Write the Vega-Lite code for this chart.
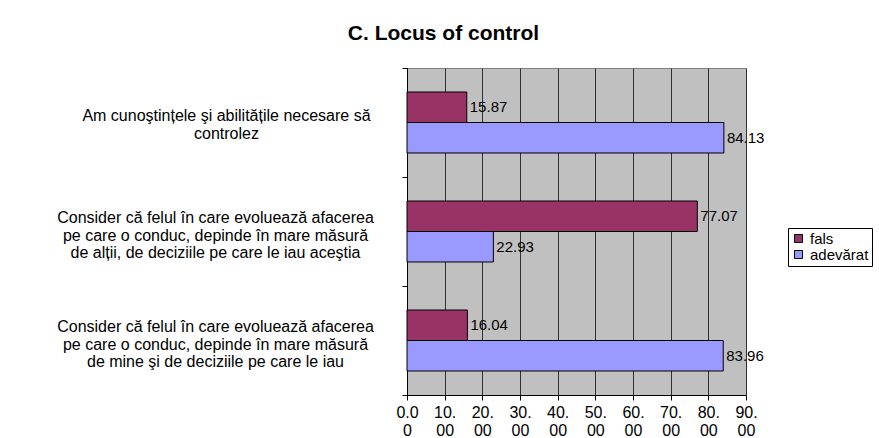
{
  "$schema": "https://vega.github.io/schema/vega-lite/v6.json",
  "autosize": "none",
  "width": 339,
  "height": 327,
  "padding": {"left": 407, "top": 68, "right": 133, "bottom": 43},
  "background": "white",
  "title": {
    "text": "C. Locus of control",
    "font": "Liberation Sans",
    "fontSize": 21,
    "fontWeight": "bold",
    "color": "black",
    "anchor": "middle",
    "dx": -133,
    "offset": 16
  },
  "data": {
    "values": [
      {"item": "Am cunoştințele şi abilitățile necesare să|controlez", "raspuns": "fals", "procent": 15.87},
      {"item": "Am cunoştințele şi abilitățile necesare să|controlez", "raspuns": "adevărat", "procent": 84.13},
      {"item": "Consider că felul în care evoluează afacerea|pe care o conduc, depinde în mare măsură|de alții, de deciziile pe care le iau aceştia", "raspuns": "fals", "procent": 77.07},
      {"item": "Consider că felul în care evoluează afacerea|pe care o conduc, depinde în mare măsură|de alții, de deciziile pe care le iau aceştia", "raspuns": "adevărat", "procent": 22.93},
      {"item": "Consider că felul în care evoluează afacerea|pe care o conduc, depinde în mare măsură|de mine şi de deciziile pe care le iau", "raspuns": "fals", "procent": 16.04},
      {"item": "Consider că felul în care evoluează afacerea|pe care o conduc, depinde în mare măsură|de mine şi de deciziile pe care le iau", "raspuns": "adevărat", "procent": 83.96}
    ]
  },
  "encoding": {
    "y": {
      "field": "item",
      "type": "nominal",
      "sort": null,
      "title": null,
      "scale": {"paddingInner": 0, "paddingOuter": 0},
      "axis": {
        "domainColor": "black",
        "tickColor": "black",
        "tickSize": 5,
        "tickBand": "extent",
        "labelExpr": "isString(datum.value) ? split(datum.value, '|') : ''",
        "labelAlign": "center",
        "labelBaseline": "middle",
        "labelPadding": {"condition": {"test": "isString(datum.value) && indexof(datum.value, 'Am') === 0", "value": 176}, "value": 187},
        "labelOffset": {"condition": {"test": "isString(datum.value) && indexof(datum.value, 'Am') === 0", "value": -7}, "value": -14},
        "labelLimit": 0,
        "labelFont": "Liberation Sans",
        "labelFontSize": 16,
        "labelLineHeight": 17.5,
        "labelColor": "black"
      }
    },
    "yOffset": {
      "field": "raspuns",
      "type": "nominal",
      "sort": ["fals", "adevărat"],
      "scale": {"paddingInner": 0, "paddingOuter": 0.787}
    },
    "x": {
      "field": "procent",
      "type": "quantitative",
      "title": null,
      "scale": {"domain": [0, 90], "nice": false},
      "axis": {
        "values": [0, 10, 20, 30, 40, 50, 60, 70, 80, 90],
        "labelExpr": "[slice(format(datum.value, '.2f'), 0, 3), slice(format(datum.value, '.2f'), 3)]",
        "grid": true,
        "gridColor": "#303030",
        "gridWidth": 1,
        "gridOpacity": 1,
        "domainColor": "black",
        "tickColor": "black",
        "tickSize": 5,
        "labelFont": "Liberation Sans",
        "labelFontSize": 16,
        "labelLineHeight": 18,
        "labelColor": "black",
        "labelPadding": 4,
        "labelFlush": false,
        "labelOverlap": false
      }
    }
  },
  "layer": [
    {
      "mark": {"type": "bar", "stroke": "black", "strokeWidth": 1},
      "encoding": {
        "color": {
          "field": "raspuns",
          "type": "nominal",
          "sort": ["fals", "adevărat"],
          "scale": {"domain": ["fals", "adevărat"], "range": ["#993366", "#9999FF"]},
          "legend": {
            "title": null,
            "orient": "none",
            "legendX": 381,
            "legendY": 160,
            "symbolType": "square",
            "symbolSize": 64,
            "symbolStrokeColor": "black",
            "symbolStrokeWidth": 1,
            "labelFont": "Liberation Sans",
            "labelFontSize": 15,
            "labelColor": "black",
            "labelOffset": 4,
            "rowPadding": 0,
            "padding": 3,
            "strokeColor": "black",
            "fillColor": "white"
          }
        }
      }
    },
    {
      "mark": {"type": "text", "align": "left", "baseline": "middle", "dx": 3, "font": "Liberation Sans", "fontSize": 15, "color": "black"},
      "encoding": {
        "text": {"field": "procent", "type": "quantitative", "format": ".2f"}
      }
    }
  ],
  "config": {
    "view": {"fill": "#C0C0C0", "stroke": "#808080"},
    "axis": {"domainWidth": 1, "tickWidth": 1}
  }
}
